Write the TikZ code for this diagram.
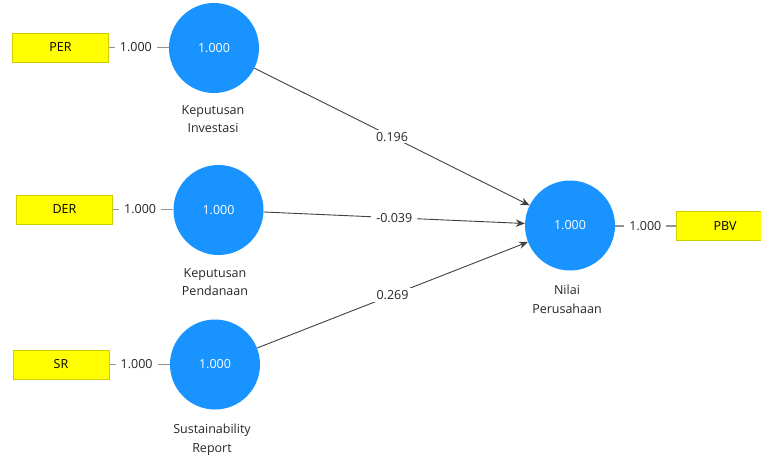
\documentclass[tikz,border=0pt]{standalone}
\usepackage{fontspec}
\setmainfont{Open Sans}
\usetikzlibrary{arrows.meta}
\definecolor{lvblue}{HTML}{1893FF}
\definecolor{indyellow}{HTML}{FFFF00}
\definecolor{indborder}{HTML}{CFCF00}
\definecolor{txt}{HTML}{262626}
\tikzset{
  latent/.style={circle, fill=lvblue, draw=none, minimum size=90pt, inner sep=0pt, text=white, font=\fontsize{12.5}{14}\selectfont},
  indicator/.style={rectangle, fill=indyellow, draw=indborder, line width=1pt, minimum width=96pt, minimum height=29pt, inner sep=0pt, text=black, font=\fontsize{12.5}{14}\selectfont},
  lvname/.style={align=center, text=txt, font=\fontsize{12.5}{18.5}\selectfont, inner sep=0pt},
  loadline/.style={draw=gray!85, line width=1.6pt},
  pathline/.style={draw=black!75, line width=0.9pt, -{Stealth[length=9pt,width=7.5pt]}},
  wlabel/.style={fill=white, text=txt, inner xsep=5pt, inner ysep=2pt, font=\fontsize{12.5}{14}\selectfont},
}
\begin{document}
\begin{tikzpicture}[x=1pt,y=-1pt]
\useasboundingbox (0,0) rectangle (761,455);
% latent variables
\node[latent] (ki) at (214,48) {1.000};
\node[latent] (kp) at (218.5,210) {1.000};
\node[latent] (sr) at (215,364.5) {1.000};
\node[latent] (np) at (570,225.5) {1.000};
% names
\node[lvname, anchor=north] (kiname) at (213,105) {Keputusan\\Investasi};
\node[lvname, anchor=north] (kpname) at (215,268) {Keputusan\\Pendanaan};
\node[lvname, anchor=north] (srname) at (212,424) {Sustainability\\Report};
\node[lvname, anchor=north] (npname) at (567,285) {Nilai\\Perusahaan};
% indicators
\node[indicator] (per) at (60.5,47.5) {PER};
\node[indicator] (der) at (64.5,209.5) {DER};
\node[indicator] (srb) at (61,364.5) {SR};
\node[indicator, minimum width=98pt] (pbv) at (725,226) {PBV};
% loadings
\draw[loadline] (per.east) -- node[wlabel, pos=0.45] {1.000} (ki.west |- per.east);
\draw[loadline] (der.east) -- node[wlabel, pos=0.45] {1.000} (kp.west |- der.east);
\draw[loadline] (srb.east) -- node[wlabel, pos=0.45] {1.000} (sr.west |- srb.east);
\draw[loadline] (np.east |- pbv.west) -- node[wlabel, pos=0.5] {1.000} (pbv.west);
% paths
\draw[pathline] (ki) -- node[wlabel] {0.196} (np);
\draw[pathline] (kp) -- node[wlabel] {-0.039} (np);
\draw[pathline] (sr) -- node[wlabel] {0.269} (np);
\end{tikzpicture}
\end{document}
